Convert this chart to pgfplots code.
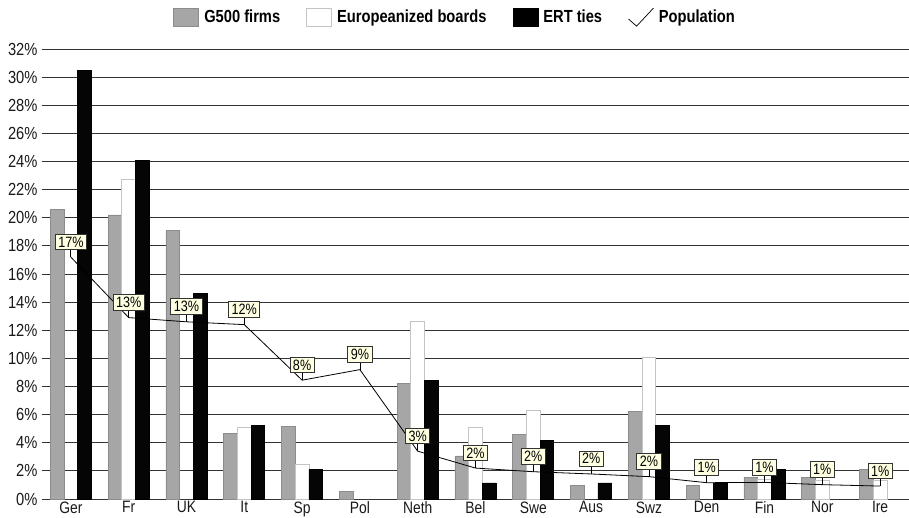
\documentclass[border=0pt]{standalone}
\usepackage{pgfplots}
\usepackage{pgfplotstable}
\pgfplotsset{compat=1.18}
\usepackage{fontspec}
\setmainfont{Liberation Sans}[FakeStretch=0.84]
\definecolor{gfill}{HTML}{A6A6A6}
\definecolor{gedge}{HTML}{8C8C8C}
\definecolor{wedge}{HTML}{C4C4C4}
\definecolor{bfill}{HTML}{050505}
\definecolor{cream}{HTML}{FFFFE1}
\pgfdeclareplotmark{leader}{\pgfpathmoveto{\pgfpointorigin}\pgfpathlineto{\pgfqpoint{0pt}{8pt}}\pgfusepathqstroke}

\pgfplotstableread{
x y
0 20.6
1 20.2
2 19.1
3 4.64
4 5.17
5 0.52
6 8.23
7 3.06
8 4.62
9 0.95
10 6.21
11 0.95
12 1.56
13 1.56
14 2.10
}\gtable
\pgfplotstableread{
x y
1 22.7
3 5.12
4 2.47
6 12.6
7 5.10
8 6.30
10 10.07
12 1.38
13 1.35
14 1.35
}\wtable
\pgfplotstableread{
x y
0 30.46
1 24.1
2 14.63
3 5.26
4 2.09
6 8.41
7 1.14
8 4.17
9 1.14
10 5.26
11 1.14
12 2.09
}\btable
\pgfplotstableread{
x y lab
0 17.2 17
1 12.9 13
2 12.6 13
3 12.4 12
4 8.45 8
5 9.2 9
6 3.4 3
7 2.2 2
8 1.94 2
9 1.78 2
10 1.59 2
11 1.16 1
12 1.18 1
13 1.02 1
14 0.92 1
}\ptable

\begin{document}
\begin{tikzpicture}
\useasboundingbox (-42pt,-18pt) rectangle (867pt,499pt);
\begin{axis}[
  at={(0pt,0pt)}, anchor=south west,
  scale only axis, width=867pt, height=450pt,
  xmin=-0.5, xmax=14.5, ymin=0, ymax=32,
  ytick={0,2,...,32},
  yticklabel={\pgfmathprintnumber{\tick}\%},
  /pgf/number format/assume math mode=true,
  xtick={0,...,14},
  xticklabels={Ger,Fr,UK,It,Sp,Pol,Neth,Bel,Swe,Aus,Swz,Den,Fin,Nor,Ire},
  ymajorgrids, grid style={black!80, line width=0.9pt},
  axis line style={draw=none},
  major tick length=0pt,
  tick label style={font=\fontsize{16.5}{18}\selectfont, text=black!90},
  yticklabel style={font=\fontsize{17.5}{19}\selectfont, xshift=-1pt},
  xticklabel style={yshift=1pt},
  legend columns=4,
  legend style={at={(0.4765,1.071)}, anchor=center, draw=none, fill=none,
    font=\fontsize{17.5}{19}\selectfont\bfseries,
    /tikz/every even column/.append style={column sep=24pt},
    /tikz/every odd column/.append style={column sep=3pt},
    row sep=0pt},
  clip=false,
]
\addlegendimage{legend image code/.code={\draw[fill=gfill,draw=gedge,line width=0.8pt] (0pt,-9pt) rectangle (25pt,9pt);}}
\addlegendentry{G500 firms}
\addlegendimage{legend image code/.code={\draw[fill=white,draw=wedge,line width=0.8pt] (0pt,-9pt) rectangle (25pt,9pt);}}
\addlegendentry{Europeanized boards}
\addlegendimage{legend image code/.code={\draw[fill=black,draw=black,line width=0.8pt] (0pt,-9pt) rectangle (25pt,9pt);}}
\addlegendentry{ERT ties}
\addlegendimage{legend image code/.code={\draw[black,line width=0.7pt] (0pt,-2pt) -- (8pt,-9pt) -- (11pt,-6pt) -- (25pt,9pt);}}
\addlegendentry{Population}

\addplot[ybar, bar width=0.237, bar shift=-0.237, fill=gfill, draw=gedge, line width=0.8pt, forget plot] table[x=x,y=y] {\gtable};
\addplot[ybar, bar width=0.237, bar shift=0, fill=white, draw=wedge, line width=0.8pt, forget plot] table[x=x,y=y] {\wtable};
\addplot[ybar, bar width=0.237, bar shift=0.237, fill=bfill, draw=black, line width=0.8pt, forget plot] table[x=x,y=y] {\btable};
\addplot[black, line width=0.8pt, sharp plot, mark=leader, mark options={solid,line width=0.8pt},
  point meta=explicit symbolic,
  nodes near coords={\pgfplotspointmeta\%},
  every node near coord/.append style={anchor=south, yshift=7pt, draw=black!80, fill=cream,
     line width=0.9pt, inner xsep=3pt, inner ysep=2.5pt, font=\fontsize{15}{16}\selectfont, text=black},
  forget plot] table[x=x,y=y,meta=lab] {\ptable};
\end{axis}
\end{tikzpicture}
\end{document}
